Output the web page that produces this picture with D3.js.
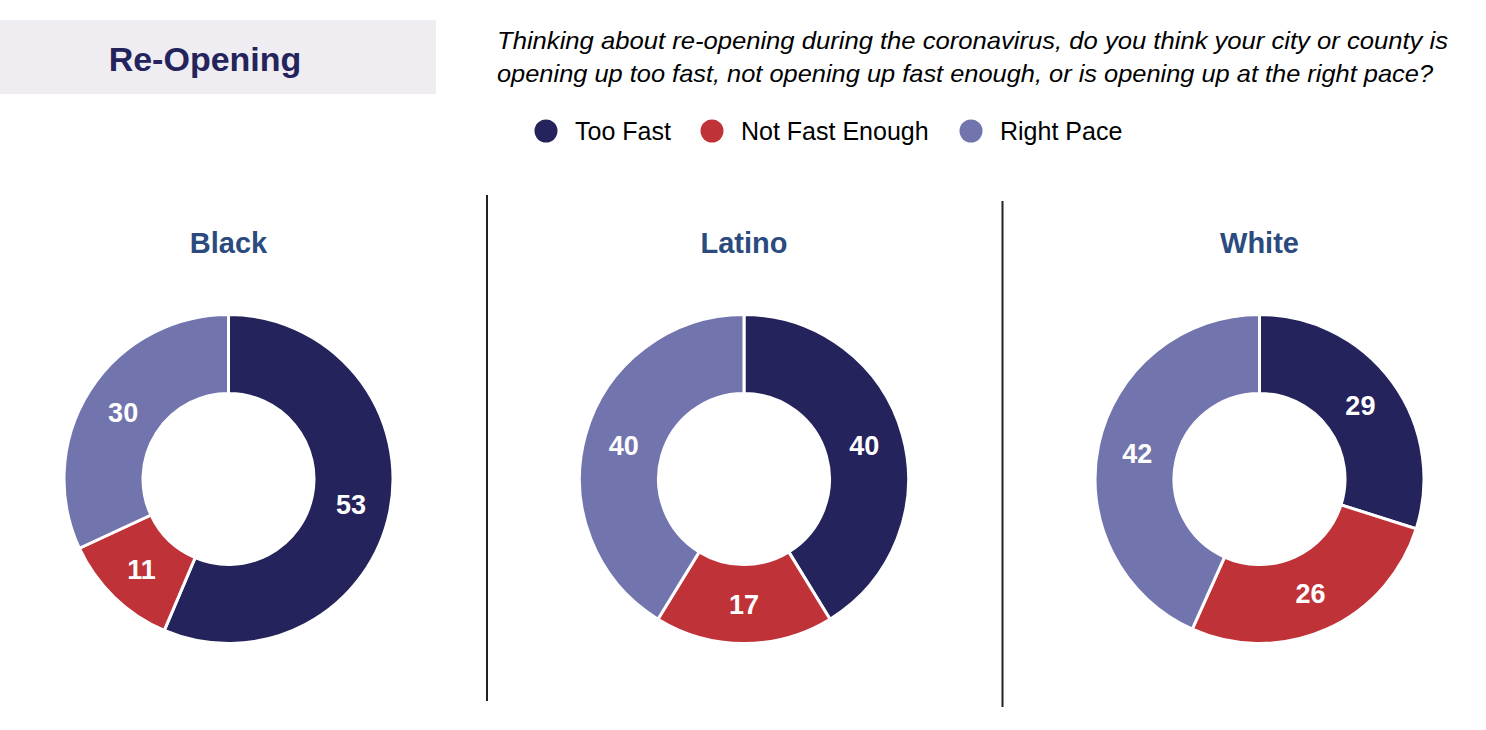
<!DOCTYPE html>
<html>
<head>
<meta charset="utf-8">
<script src="https://cdn.jsdelivr.net/npm/d3@7"></script>
<style>
  html, body { margin: 0; padding: 0; background: #ffffff; }
  svg { display: block; font-family: Arial, "Liberation Sans", Helvetica, sans-serif; }
</style>
</head>
<body>
<svg id="chart" width="1486" height="730"></svg>
<script>
// ---- Data ----
const title = "Re-Opening";
const questionLines = [
  "Thinking about re-opening during the coronavirus, do you think your city or county is",
  "opening up too fast, not opening up fast enough, or is opening up at the right pace?"
];
const categories = ["Too Fast", "Not Fast Enough", "Right Pace"];
const groups = ["Black", "Latino", "White"];
const blackValues = [53, 11, 30];
const latinoValues = [40, 17, 40];
const whiteValues = [29, 26, 42];
const groupValues = [blackValues, latinoValues, whiteValues];
const colors = ["#24235c", "#bf3338", "#7274ad"];

// ---- Layout ----
const svg = d3.select("#chart");
const questionWidths = [951, 936];

// Title box
svg.append("rect").attr("x", 0).attr("y", 20).attr("width", 436).attr("height", 74)
  .attr("fill", "#efedf1");
svg.append("text").attr("x", 205).attr("y", 71)
  .attr("text-anchor", "middle").attr("font-size", 34).attr("font-weight", "bold")
  .attr("fill", "#24235c").text(title);

// Question
svg.selectAll("text.q").data(questionLines).join("text").attr("class", "q")
  .attr("x", 497).attr("y", (d, i) => 49 + i * 33)
  .attr("font-size", 24).attr("font-style", "italic").attr("fill", "#000")
  .attr("textLength", (d, i) => questionWidths[i]).attr("lengthAdjust", "spacingAndGlyphs")
  .text(d => d);

// Legend
const legendX = [546, 712, 971];
const legend = svg.selectAll("g.leg").data(categories).join("g").attr("class", "leg")
  .attr("transform", (d, i) => `translate(${legendX[i]},131)`);
legend.append("circle").attr("r", 11.5).attr("fill", (d, i) => colors[i]);
legend.append("text").attr("x", 29).attr("y", 9).attr("font-size", 25).attr("fill", "#000")
  .text(d => d);

// Dividers
const dividers = [{x: 487, y1: 195, y2: 701}, {x: 1002.5, y1: 201, y2: 707}];
svg.selectAll("line.div").data(dividers).join("line").attr("class", "div")
  .attr("x1", d => d.x).attr("x2", d => d.x).attr("y1", d => d.y1).attr("y2", d => d.y2)
  .attr("stroke", "#222").attr("stroke-width", 2);

// Donuts
const centersX = d3.scalePoint().domain(groups).range([228.5, 1259.5]);
const cy = 479;
const outerR = 164.5, innerR = 85.5;
const pie = d3.pie().sort(null).value(d => d.value);
const arc = d3.arc().innerRadius(innerR).outerRadius(outerR);
const color = d3.scaleOrdinal().domain(categories).range(colors);

groups.forEach((g, gi) => {
  const cx = centersX(g);
  const data = categories.map((c, i) => ({cat: c, value: groupValues[gi][i]}));
  const gEl = svg.append("g").attr("transform", `translate(${cx},${cy})`);
  const arcs = pie(data);
  gEl.selectAll("path").data(arcs).join("path")
    .attr("d", arc).attr("fill", d => color(d.data.cat))
    .attr("stroke", "#fff").attr("stroke-width", 3).attr("stroke-linejoin", "miter");
  gEl.selectAll("text").data(arcs).join("text")
    .attr("transform", d => `translate(${arc.centroid(d)})`)
    .attr("text-anchor", "middle").attr("dy", "0.37em")
    .attr("font-size", 27).attr("font-weight", "bold").attr("fill", "#fff")
    .text(d => d.data.value);
  svg.append("text").attr("x", cx).attr("y", 253).attr("text-anchor", "middle")
    .attr("font-size", 29).attr("font-weight", "bold").attr("fill", "#2b4b7e").text(g);
});
</script>
</body>
</html>
